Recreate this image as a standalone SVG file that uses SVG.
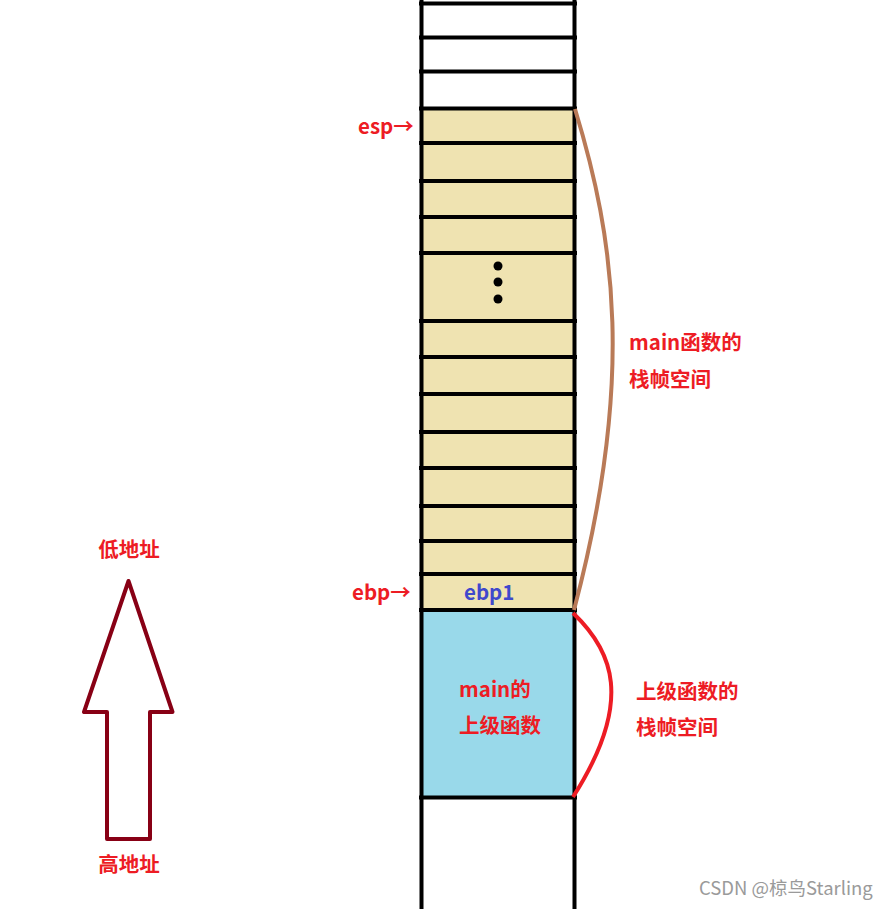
<svg xmlns="http://www.w3.org/2000/svg" width="891" height="909" viewBox="0 0 891 909">
<style>
.ln{stroke:#000;stroke-width:4;fill:none}
.lbl{font-family:"Noto Sans CJK SC","Liberation Sans",sans-serif;font-weight:bold;font-size:20.5px;fill:#ED1C24}
</style>
<rect width="891" height="909" fill="#fff"/>
<g id="stack">
<rect x="421" y="108" width="153" height="502" fill="#EFE3B1"/>
<rect x="421" y="610" width="153" height="187" fill="#99D9EA"/>
<g class="ln">
<line x1="421.5" y1="0" x2="421.5" y2="909"/>
<line x1="574.5" y1="0" x2="574.5" y2="909"/>
<path d="M419 3.5H577M419 37.5H577M419 71.5H577M419 108.5H577M419 143H577M419 181H577M419 217H577M419 253H577M419 321H577M419 357H577M419 394H577M419 432H577M419 468H577M419 506H577M419 541H577M419 574H577M419 610H577M419 797.5H577"/>
</g>
<circle cx="498" cy="266" r="4.5"/>
<circle cx="498" cy="282" r="4.5"/>
<circle cx="498" cy="299" r="4.5"/>
</g>
<g id="connectors">
<path d="M575 109 C615 240 635 380 574 610" stroke="#B97A57" stroke-width="4" fill="none"/>
<path d="M573 613 C612 650 635 700 573 797" stroke="#ED1C24" stroke-width="4" fill="none"/>
</g>
<g id="arrow">
<polygon points="128.5,581 84,712 107,712 107,839 150,839 150,712 172.5,712" fill="none" stroke="#880015" stroke-width="4" stroke-linejoin="round"/>
</g>
<g id="labels">
<text class="lbl" x="129" y="557" text-anchor="middle">低地址</text>
<text class="lbl" x="129" y="872" text-anchor="middle">高地址</text>
<text class="lbl" x="358" y="134">esp→</text>
<text class="lbl" x="352" y="600">ebp→</text>
<text class="lbl" x="464" y="600" style="fill:#3F48CC">ebp1</text>
<text class="lbl" x="629" y="350">main函数的</text>
<text class="lbl" x="629" y="387">栈帧空间</text>
<text class="lbl" x="636" y="699">上级函数的</text>
<text class="lbl" x="636" y="735">栈帧空间</text>
<text class="lbl" x="459" y="697">main的</text>
<text class="lbl" x="459" y="733">上级函数</text>
<text x="699" y="895" font-family="'Noto Sans CJK SC','Liberation Sans',sans-serif" font-size="18.5" fill="#9a9a9a">CSDN @椋鸟Starling</text>
</g>
</svg>
